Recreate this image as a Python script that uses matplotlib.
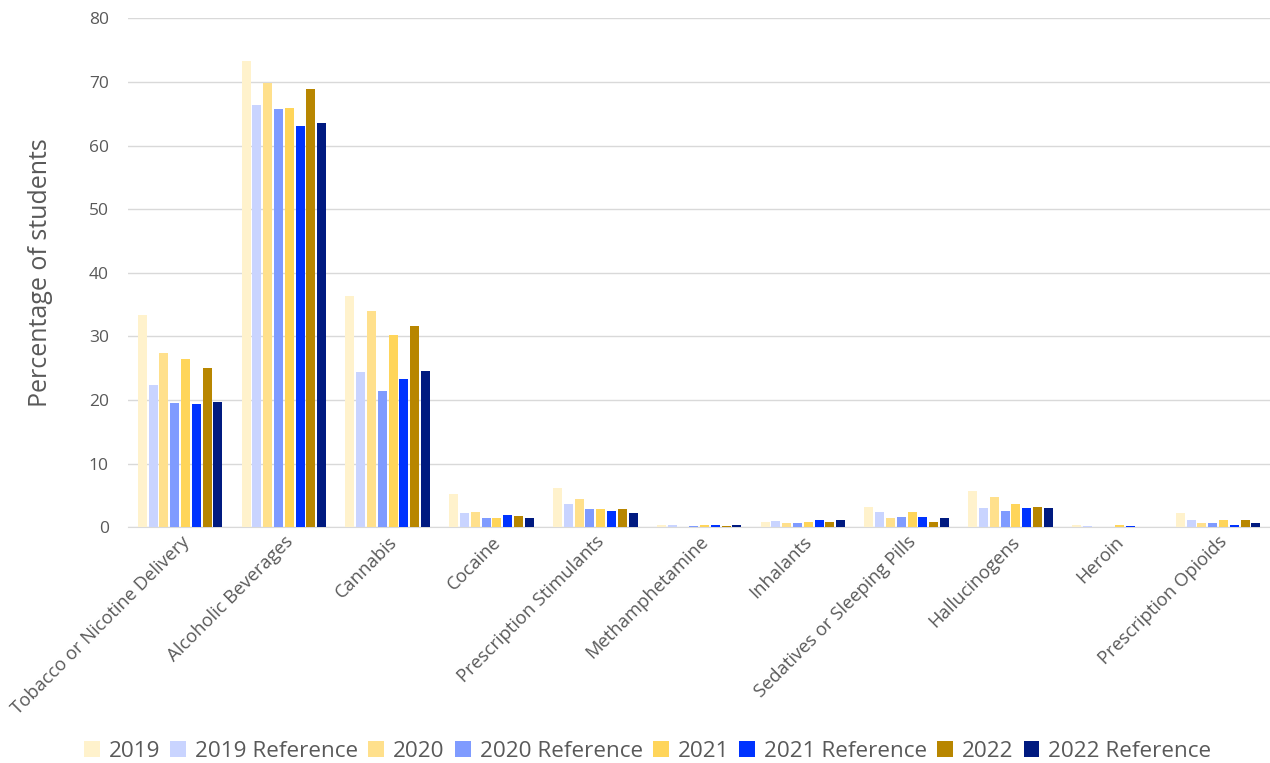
import matplotlib.pyplot as plt
import numpy as np

categories = ['Tobacco or Nicotine Delivery', 'Alcoholic Beverages', 'Cannabis', 'Cocaine',
              'Prescription Stimulants', 'Methamphetamine', 'Inhalants',
              'Sedatives or Sleeping Pills', 'Hallucinogens', 'Heroin', 'Prescription Opioids']

series_names = ['2019', '2019 Reference', '2020', '2020 Reference',
                '2021', '2021 Reference', '2022', '2022 Reference']

v2019 = [33.4, 73.3, 36.4, 5.2, 6.2, 0.3, 0.8, 3.2, 5.7, 0.3, 2.3]
v2019_ref = [22.4, 66.4, 24.4, 2.3, 3.6, 0.3, 1.0, 2.4, 3.1, 0.2, 1.1]
v2020 = [27.4, 69.9, 34.0, 2.4, 4.4, 0.0, 0.7, 1.4, 4.7, 0.0, 0.7]
v2020_ref = [19.5, 65.7, 21.4, 1.5, 2.9, 0.2, 0.6, 1.6, 2.5, 0.0, 0.6]
v2021 = [26.4, 65.9, 30.2, 1.5, 2.8, 0.4, 0.9, 2.4, 3.7, 0.3, 1.1]
v2021_ref = [19.3, 63.0, 23.3, 2.0, 2.6, 0.3, 1.2, 1.6, 3.0, 0.2, 0.3]
v2022 = [25.0, 68.9, 31.7, 1.7, 2.9, 0.2, 0.9, 0.8, 3.2, 0.1, 1.1]
v2022_ref = [19.7, 63.6, 24.5, 1.5, 2.2, 0.3, 1.1, 1.4, 3.0, 0.1, 0.6]

series = [v2019, v2019_ref, v2020, v2020_ref, v2021, v2021_ref, v2022, v2022_ref]
colors = ['#FFF2CC', '#C9D4FF', '#FFE08C', '#7F9BFF',
          '#FFD55A', '#0033FF', '#B88600', '#001A80']

plt.rcParams['font.family'] = ['Open Sans', 'DejaVu Sans']
grey = '#595959'

fig = plt.figure(figsize=(12.7, 7.63), dpi=100)
ax = fig.add_axes([0.101, 0.309, 0.899, 0.667])

x = np.arange(len(categories))
pitch = 0.104
width = 0.087
for i, (vals, name, c) in enumerate(zip(series, series_names, colors)):
    ax.bar(x + (i - 3.5) * pitch, vals, width, color=c, label=name, zorder=3)

ax.set_xlim(-0.5, len(categories) - 0.5)
ax.set_ylim(0, 80)
ax.set_yticks(range(0, 81, 10))
ax.grid(axis='y', color='#D9D9D9', linewidth=1, zorder=0)
for s in ['top', 'right', 'left']:
    ax.spines[s].set_visible(False)
ax.spines['bottom'].set_color('#D9D9D9')
ax.tick_params(axis='y', length=0, labelsize=12.5, labelcolor=grey, pad=14)
ax.tick_params(axis='x', length=0, labelsize=13.2, labelcolor=grey, pad=4)
ax.set_xticks(x)
ax.set_xticklabels(categories, rotation=45, ha='right', rotation_mode='anchor')
ax.set_ylabel('Percentage of students', fontsize=18, color=grey, labelpad=26)

fig.legend(loc='lower center', bbox_to_anchor=(0.51, -0.025), ncol=8, frameon=False,
           fontsize=16.2, labelcolor=grey, handlelength=0.7, handleheight=0.7,
           handletextpad=0.4, columnspacing=0.45)

plt.savefig('out.png', dpi=100)
